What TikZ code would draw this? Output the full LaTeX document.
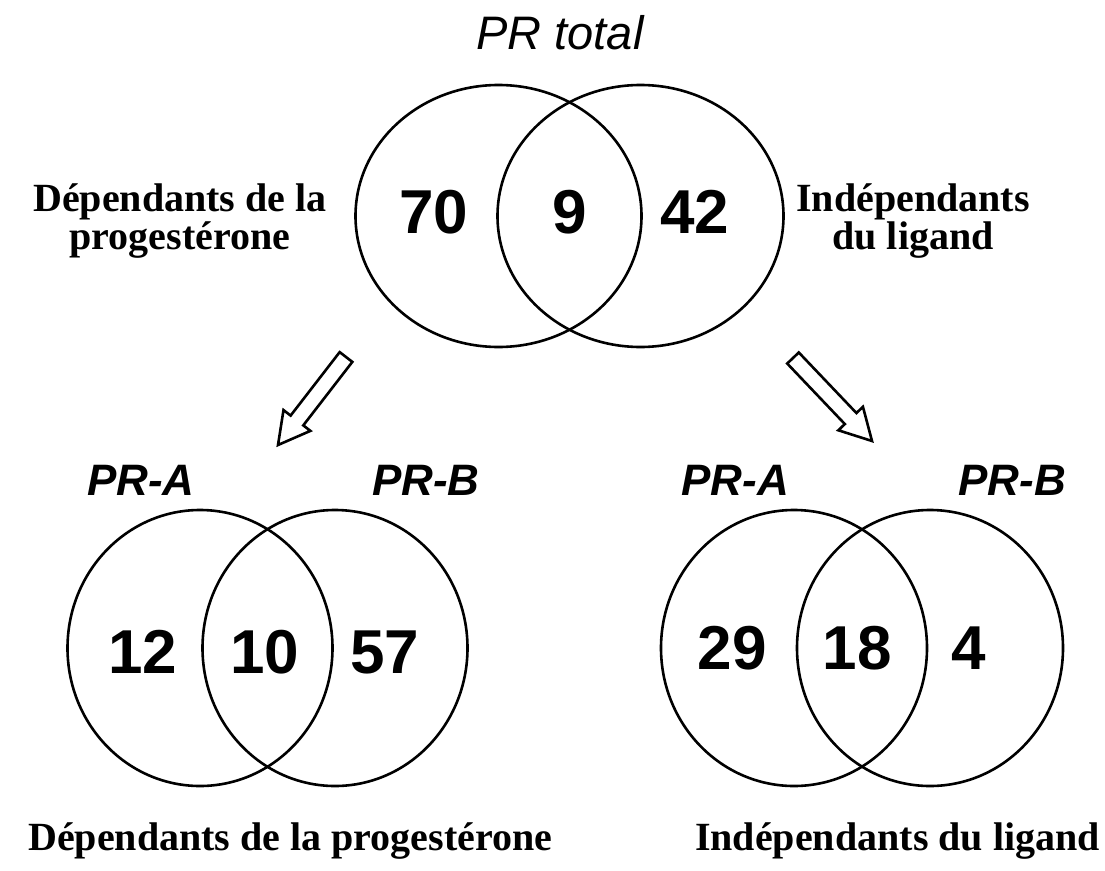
\documentclass[tikz,border=0pt]{standalone}
\usepackage{fontspec}
\setmainfont{Liberation Serif}
\newfontfamily\arial{Liberation Sans}
\usetikzlibrary{calc}
\tikzset{
  venn/.style={draw=black, line width=2.6pt},
  num/.style={font=\arial\bfseries\fontsize{62}{62}\selectfont, inner sep=0pt},
  prlab/.style={font=\arial\bfseries\itshape\fontsize{44}{44}\selectfont, inner sep=0pt},
  grp/.style={font=\bfseries\fontsize{40}{33}\selectfont, align=center, inner sep=0pt},
  bottomlab/.style={font=\bfseries\fontsize{40}{40}\selectfont, inner sep=0pt},
  hollow/.style={draw=black, line width=2.6pt, fill=white, line join=miter}
}
\begin{document}
\begin{tikzpicture}[x=1pt,y=-1pt]
\useasboundingbox[fill=white] (0,0) rectangle (1105,870);
% title
\node[font=\arial\itshape\fontsize{47}{47}\selectfont, inner sep=0pt] (title) at (560,33) {PR total};
% top venn
\draw[venn] (498.5,216) ellipse [x radius=143, y radius=131];
\draw[venn] (640.5,216) ellipse [x radius=143, y radius=131];
\node[num] (n70) at (434,212) {70};
\node[num] (n9) at (570,212) {9};
\node[num] (n42) at (695,212) {42};
\node[grp] (dep) at (180,221) {Dépendants de la\\progestérone};
\node[grp] (ind) at (913,221) {Indépendants\\du ligand};
% arrows
\coordinate (lt) at (346,357); \coordinate (lh) at (278,445);
\coordinate (lb) at ($(lh)!31pt!(lt)$);
\draw[hollow] ($(lt)!8pt!90:(lh)$) -- ($(lb)!8pt!-90:(lt)$) -- ($(lb)!17pt!-90:(lt)$) -- (lh)
  -- ($(lb)!17pt!90:(lt)$) -- ($(lb)!8pt!90:(lt)$) -- ($(lt)!8pt!-90:(lh)$) -- cycle;
\coordinate (rt) at (793,358); \coordinate (rh) at (872,441);
\coordinate (rb) at ($(rh)!31pt!(rt)$);
\draw[hollow] ($(rt)!8pt!90:(rh)$) -- ($(rb)!8pt!-90:(rt)$) -- ($(rb)!17pt!-90:(rt)$) -- (rh)
  -- ($(rb)!17pt!90:(rt)$) -- ($(rb)!8pt!90:(rt)$) -- ($(rt)!8pt!-90:(rh)$) -- cycle;
% bottom left venn
\draw[venn] (200,648) ellipse [x radius=132.5, y radius=138];
\draw[venn] (335,648) ellipse [x radius=132.5, y radius=138];
\node[prlab] (pra1) at (141,480) {PR-A};
\node[prlab] (prb1) at (426,480) {PR-B};
\node[num] (n12) at (143,652) {12};
\node[num] (n10) at (265,652) {10};
\node[num] (n57) at (385,652) {57};
% bottom right venn
\draw[venn] (794,648) ellipse [x radius=133, y radius=138];
\draw[venn] (930,648) ellipse [x radius=133, y radius=138];
\node[prlab] (pra2) at (735,480) {PR-A};
\node[prlab] (prb2) at (1012,480) {PR-B};
\node[num] (n29) at (732,648) {29};
\node[num] (n18) at (857,648) {18};
\node[num] (n4) at (969,648) {4};
% bottom labels
\node[bottomlab, anchor=base west] (depb) at (28,850) {Dépendants de la progestérone};
\node[bottomlab, anchor=base east] (indb) at (1100,850) {Indépendants du ligand};
\end{tikzpicture}
\end{document}
